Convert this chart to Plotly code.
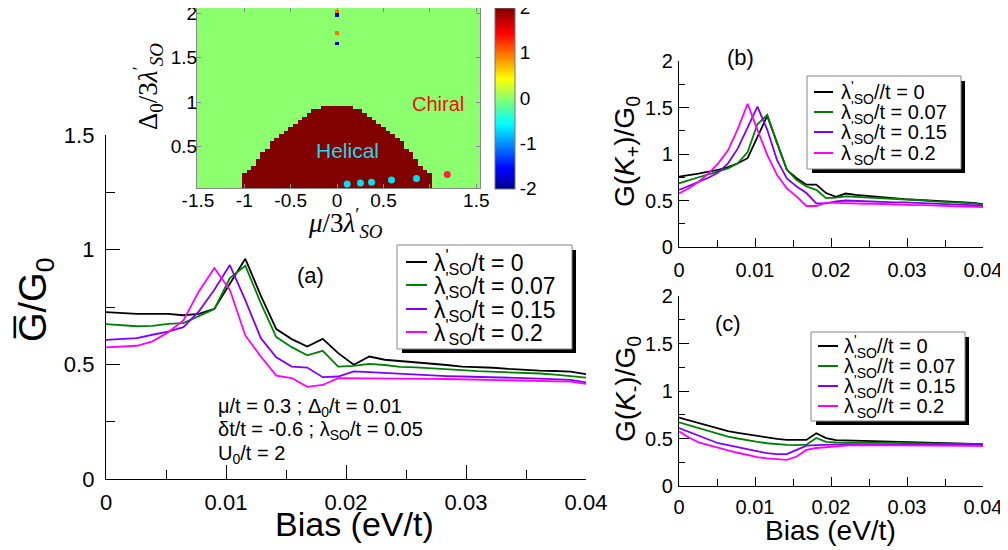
import plotly.graph_objects as go

# ---------------- data ----------------
bias = [0.0, 0.00129, 0.00258, 0.00387, 0.00516, 0.00645, 0.00774, 0.00903, 0.01032, 0.01161,
        0.0129, 0.01419, 0.01548, 0.01677, 0.01806, 0.01935, 0.02065, 0.02194, 0.02323, 0.02452,
        0.02581, 0.0271, 0.02839, 0.02968, 0.03097, 0.03226, 0.03355, 0.03484, 0.03613, 0.03742,
        0.03871, 0.04]

# panel (a): mean conductance
a_l0 = [0.728, 0.723, 0.72, 0.72, 0.72, 0.714, 0.72, 0.742, 0.85, 0.96, 0.8, 0.654, 0.61, 0.578, 0.611,
        0.549, 0.498, 0.534, 0.52, 0.515, 0.508, 0.502, 0.497, 0.49, 0.488, 0.485, 0.48, 0.475, 0.473,
        0.471, 0.468, 0.457]
a_l007 = [0.675, 0.67, 0.666, 0.668, 0.676, 0.68, 0.709, 0.741, 0.876, 0.93, 0.767, 0.619, 0.575, 0.539,
          0.559, 0.49, 0.493, 0.502, 0.497, 0.489, 0.487, 0.484, 0.479, 0.475, 0.47, 0.468, 0.465, 0.462,
          0.46, 0.455, 0.45, 0.442]
a_l015 = [0.607, 0.609, 0.614, 0.629, 0.643, 0.662, 0.731, 0.825, 0.933, 0.78, 0.614, 0.531, 0.49, 0.486,
          0.444, 0.447, 0.469, 0.466, 0.462, 0.458, 0.455, 0.452, 0.449, 0.447, 0.446, 0.445, 0.443, 0.44,
          0.438, 0.435, 0.432, 0.421]
a_l02 = [0.574, 0.576, 0.581, 0.6, 0.639, 0.691, 0.818, 0.92, 0.825, 0.626, 0.534, 0.451, 0.44, 0.402, 0.41,
         0.44, 0.44, 0.44, 0.44, 0.439, 0.438, 0.437, 0.436, 0.435, 0.433, 0.432, 0.43, 0.429, 0.428, 0.426,
         0.425, 0.415]

# panel (b): G(K+)
b_l0 = [0.756, 0.77, 0.79, 0.81, 0.83, 0.86, 0.9, 0.955, 1.18, 1.41, 1.12, 0.83, 0.74, 0.67, 0.67, 0.58,
        0.54, 0.575, 0.56, 0.55, 0.54, 0.53, 0.525, 0.515, 0.51, 0.505, 0.5, 0.49, 0.485, 0.48, 0.475, 0.46]
b_l007 = [0.685, 0.72, 0.75, 0.78, 0.81, 0.845, 0.9, 1.02, 1.32, 1.42, 1.12, 0.83, 0.72, 0.65, 0.615, 0.525,
          0.53, 0.545, 0.54, 0.535, 0.53, 0.52, 0.515, 0.51, 0.505, 0.5, 0.49, 0.485, 0.48, 0.475, 0.47, 0.455]
b_l015 = [0.613, 0.655, 0.7, 0.745, 0.8, 0.9, 1.06, 1.28, 1.51, 1.26, 0.935, 0.738, 0.65, 0.58, 0.47, 0.47,
          0.49, 0.5, 0.495, 0.49, 0.49, 0.485, 0.48, 0.48, 0.475, 0.47, 0.47, 0.465, 0.46, 0.455, 0.45, 0.445]
b_l02 = [0.576, 0.631, 0.702, 0.79, 0.9, 1.04, 1.27, 1.54, 1.26, 0.99, 0.774, 0.631, 0.541, 0.441, 0.441,
         0.476, 0.475, 0.47, 0.47, 0.465, 0.465, 0.46, 0.46, 0.455, 0.45, 0.45, 0.445, 0.44, 0.44, 0.435,
         0.435, 0.43]

# panel (c): G(K-)
c_l0 = [0.72, 0.69, 0.66, 0.635, 0.6, 0.578, 0.56, 0.542, 0.525, 0.51, 0.495, 0.485, 0.485, 0.485, 0.555,
        0.505, 0.483, 0.48, 0.478, 0.475, 0.472, 0.47, 0.468, 0.466, 0.464, 0.46, 0.456, 0.453, 0.45, 0.448,
        0.446, 0.44]
c_l007 = [0.67, 0.64, 0.61, 0.58, 0.55, 0.52, 0.5, 0.48, 0.465, 0.45, 0.44, 0.432, 0.43, 0.435, 0.505, 0.465,
          0.46, 0.46, 0.46, 0.458, 0.456, 0.455, 0.454, 0.452, 0.45, 0.45, 0.448, 0.446, 0.445, 0.443, 0.442,
          0.44]
c_l015 = [0.61, 0.57, 0.53, 0.49, 0.45, 0.43, 0.41, 0.385, 0.365, 0.345, 0.335, 0.335, 0.38, 0.425, 0.43,
          0.435, 0.44, 0.44, 0.44, 0.44, 0.44, 0.44, 0.44, 0.44, 0.44, 0.438, 0.436, 0.435, 0.434, 0.433,
          0.432, 0.43]
c_l02 = [0.575, 0.51, 0.46, 0.43, 0.4, 0.375, 0.35, 0.325, 0.305, 0.29, 0.28, 0.275, 0.31, 0.38, 0.4, 0.41,
         0.42, 0.425, 0.43, 0.43, 0.43, 0.43, 0.43, 0.43, 0.43, 0.428, 0.427, 0.426, 0.425, 0.424, 0.423, 0.42]

legend_a = ["λ<sup>'</sup><sub>SO</sub>/t = 0", "λ<sup>'</sup><sub>SO</sub>/t = 0.07",
            "λ<sup>'</sup><sub>SO</sub>/t = 0.15", "λ<sup>'</sup><sub>SO</sub>/t = 0.2"]
legend_b = ["λ<sup>'</sup><sub>SO</sub>//t = 0", "λ<sup>'</sup><sub>SO</sub>/t = 0.07",
            "λ<sup>'</sup><sub>SO</sub>/t = 0.15", "λ<sup>'</sup><sub>SO</sub>/t = 0.2"]
legend_c = ["λ<sup>'</sup><sub>SO</sub>//t = 0", "λ<sup>'</sup><sub>SO</sub>//t = 0.07",
            "λ<sup>'</sup><sub>SO</sub>//t = 0.15", "λ<sup>'</sup><sub>SO</sub>//t = 0.2"]

# inset phase diagram: upper edge of the helical dome (Delta0/3lambda') vs mu/3lambda'
dome_mu = [-1.0, -0.95, -0.9, -0.85, -0.8, -0.75, -0.7, -0.65, -0.6, -0.55, -0.5, -0.45, -0.4, -0.35, -0.3,
           -0.25, -0.2, -0.15, -0.1, -0.05, 0.0, 0.05, 0.1, 0.15, 0.2, 0.25, 0.3, 0.35, 0.4, 0.45, 0.5, 0.55,
           0.6, 0.65, 0.7, 0.75, 0.8, 0.85, 0.9, 0.95, 1.0]
dome_top = [0.2, 0.25, 0.3, 0.355, 0.43, 0.495, 0.55, 0.6, 0.645, 0.69, 0.735, 0.78, 0.82, 0.86, 0.885,
            0.91, 0.935, 0.95, 0.965, 0.975, 0.98, 0.975, 0.965, 0.95, 0.935, 0.91, 0.885, 0.86, 0.82, 0.78,
            0.735, 0.69, 0.645, 0.6, 0.55, 0.495, 0.43, 0.355, 0.3, 0.25, 0.2]
helical_value = 2
chiral_value = 0
spot_mu = [0.0, 0.0, 0.0, 0.0]
spot_delta = [2.02, 1.98, 1.78, 1.66]
spot_value = [1.0, -1.8, 1.0, -1.8]
grid_mu = [-1.55, -1.5, -1.45, -1.4, -1.35, -1.3, -1.25, -1.2, -1.15, -1.1, -1.05] + dome_mu + \
          [1.05, 1.1, 1.15, 1.2, 1.25, 1.3, 1.35, 1.4, 1.45, 1.5, 1.55]
grid_delta = [0.02, 0.06, 0.1, 0.14, 0.18, 0.22, 0.26, 0.3, 0.34, 0.38, 0.42, 0.46, 0.5, 0.54, 0.58, 0.62,
              0.66, 0.7, 0.74, 0.78, 0.82, 0.86, 0.9, 0.94, 0.98, 1.02, 1.06, 1.1, 1.14, 1.18, 1.22, 1.26,
              1.3, 1.34, 1.38, 1.42, 1.46, 1.5, 1.54, 1.58, 1.62, 1.66, 1.7, 1.74, 1.78, 1.82, 1.86, 1.9,
              1.94, 1.98, 2.02, 2.06]
helical_pts_mu = [0.108, 0.252, 0.371, 0.586, 0.856]
helical_pts_delta = [0.079, 0.09, 0.10, 0.124, 0.142]
chiral_pts_mu = [1.187]
chiral_pts_delta = [0.187]

# ---------------- styles ----------------
# the page puts the figure 8 px from the window's top-left corner
OFF = 8
W, H = 1000, 542
FONT = "Liberation Sans, Arial, sans-serif"
SERIF = "Liberation Serif, Times New Roman, serif"
series_colors = ["#000000", "#008000", "#8000FF", "#FF00FF"]


def X(px):
    return (px - OFF) / W


def Y(py):
    return 1 - (py - OFF) / H


fig = go.Figure()

panels = [
    ("x", "y", [a_l0, a_l007, a_l015, a_l02], legend_a),
    ("x2", "y2", [b_l0, b_l007, b_l015, b_l02], legend_b),
    ("x3", "y3", [c_l0, c_l007, c_l015, c_l02], legend_c),
]
for xa, ya, series, names in panels:
    for vals, name, col in zip(series, names, series_colors):
        fig.add_trace(go.Scatter(x=bias, y=vals, mode="lines", name=name, xaxis=xa, yaxis=ya,
                                 line=dict(color=col, width=1.8), showlegend=False))

# inset heatmap (z table built from the dome edge read above)
top_of = {m: t for m, t in zip(dome_mu, dome_top)}
z = []
for d in grid_delta:
    row = []
    for m in grid_mu:
        row.append(helical_value if d < top_of.get(m, 0) else chiral_value)
    z.append(row)
for m, d, v in zip(spot_mu, spot_delta, spot_value):
    z[grid_delta.index(d)][grid_mu.index(m)] = v

jet = [[0, "rgb(0,0,140)"], [0.11, "rgb(0,0,255)"], [0.36, "rgb(0,255,255)"], [0.5, "rgb(140,255,110)"],
       [0.61, "rgb(255,255,0)"], [0.86, "rgb(255,0,0)"], [1, "rgb(128,0,0)"]]
fig.add_trace(go.Heatmap(x=grid_mu, y=grid_delta, z=z, xaxis="x4", yaxis="y4", zmin=-2.003, zmax=2.003,
                         colorscale=jet, zsmooth=False,
                         colorbar=dict(x=X(495), xanchor="left", xpad=0, y=Y(98), yanchor="middle",
                                       len=181 / H, lenmode="fraction", thickness=20, ypad=0,
                                       outlinecolor="#777777", outlinewidth=1, ticklabeloverflow="allow",
                                       tickvals=[-2, -1, 0, 1, 2], ticktext=["-2", "-1", "0", "1", "2"],
                                       ticks="", tickfont=dict(family=FONT, size=19, color="black"))))
fig.add_trace(go.Scatter(x=helical_pts_mu, y=helical_pts_delta, mode="markers", xaxis="x4", yaxis="y4",
                         marker=dict(color="#00E0F0", size=7), showlegend=False))
fig.add_trace(go.Scatter(x=chiral_pts_mu, y=chiral_pts_delta, mode="markers", xaxis="x4", yaxis="y4",
                         marker=dict(color="#FF2040", size=7), showlegend=False))


def main_axis(dom, rng, ticklen, minor_dtick, minorlen, fsize, vals, texts, anchor, standoff):
    return dict(domain=dom, range=rng, showline=True, linecolor="black", linewidth=1.3, mirror=False,
                ticks="inside", ticklen=ticklen, tickwidth=1.2, tickcolor="black", showgrid=False,
                zeroline=False, automargin=False, anchor=anchor, ticklabelstandoff=standoff,
                ticklabeloverflow="allow",
                tickfont=dict(family=FONT, size=fsize, color="black"),
                tickmode="array", tickvals=vals, ticktext=texts,
                minor=dict(dtick=minor_dtick, tick0=0, ticks="inside", ticklen=minorlen, tickwidth=1.2,
                           tickcolor="black", showgrid=False))


xt_vals = [0, 0.01, 0.02, 0.03, 0.04]
xt_text = ["0", "0.01", "0.02", "0.03", "0.04"]
yt_vals = [0, 0.5, 1, 1.5, 2]
yt_text = ["0", "0.5", "1", "1.5", "2"]

inset_ax = dict(showline=True, linecolor="#888888", linewidth=1, mirror="ticks", ticks="inside",
                ticklen=4, tickcolor="#888888", showgrid=False, zeroline=False, automargin=False,
                ticklabelstandoff=-5, ticklabeloverflow="allow",
                tickfont=dict(family=FONT, size=19, color="black"))

fig.update_layout(
    width=W, height=H, margin=dict(l=0, r=0, t=0, b=0, pad=0, autoexpand=False),
    paper_bgcolor="white", plot_bgcolor="rgba(0,0,0,0)", showlegend=False,
    font=dict(family=FONT, color="black"),
    xaxis=main_axis([X(106), X(586)], [0, 0.04], 14, 0.005, 9, 22, xt_vals, xt_text, "y", 3),
    yaxis=main_axis([Y(479), Y(135)], [0, 1.5], 14, 0.25, 9, 22, yt_vals[:4], yt_text[:4], "x", 6),
    xaxis2=main_axis([X(679), X(983)], [0, 0.04], 9, 0.005, 7, 20, xt_vals, xt_text, "y2", 5),
    yaxis2=main_axis([Y(247), Y(61)], [0, 2], 10, 0.25, 6, 20, yt_vals, yt_text, "x2", 1),
    xaxis3=main_axis([X(679), X(983)], [0, 0.04], 9, 0.005, 7, 20, xt_vals, xt_text, "y3", 3),
    yaxis3=main_axis([Y(486), Y(296)], [0, 2], 10, 0.25, 6, 20, yt_vals, yt_text, "x3", 1),
    xaxis4=dict(domain=[X(197), X(480)], range=[-1.51, 1.54], tickmode="array",
                tickvals=[-1.5, -1, -0.5, 0, 0.5, 1, 1.5],
                ticktext=["-1.5", "-1", "-0.5", "0", "0.5", "", "1.5"], anchor="y4", **inset_ax),
    yaxis4=dict(domain=[Y(188), Y(8)], range=[0.035, 2.06], tickmode="array",
                tickvals=[0.5, 1, 1.5, 2], ticktext=["0.5", "1", "1.5", "2"], anchor="x4", **inset_ax),
)

shapes = []
annotations = []


def legend_box(box, names, rows, line_x, text_x, fsize):
    x0, y0, x1, y1 = box
    shapes.append(dict(type="rect", xref="paper", yref="paper", x0=X(x0 + 5), x1=X(x1 + 4),
                       y0=Y(y1 + 4), y1=Y(y0 + 5), fillcolor="black", line=dict(width=0), layer="above"))
    shapes.append(dict(type="rect", xref="paper", yref="paper", x0=X(x0), x1=X(x1), y0=Y(y1), y1=Y(y0),
                       fillcolor="white", line=dict(color="#888888", width=1), layer="above"))
    for name, col, r in zip(names, series_colors, rows):
        shapes.append(dict(type="line", xref="paper", yref="paper", x0=X(line_x[0]), x1=X(line_x[1]),
                           y0=Y(r), y1=Y(r), line=dict(color=col, width=2), layer="above"))
        annotations.append(dict(text=name, xref="paper", yref="paper", x=X(text_x), y=Y(r),
                                xanchor="left", yanchor="middle", showarrow=False,
                                font=dict(family=FONT, size=fsize, color="black")))


legend_box((397, 245, 572, 349), legend_a, [262, 285, 309, 332], (406, 427), 432, 23)
legend_box((807, 76, 961, 169), legend_b, [92, 112, 132, 153], (814, 833), 839, 20)
legend_box((811, 332, 965, 421), legend_c, [346, 366, 386, 406], (818, 838), 842, 20)


def note(text, px, py, size, color="black", xanchor="center", angle=0, family=FONT):
    annotations.append(dict(text=text, xref="paper", yref="paper", x=X(px), y=Y(py), xanchor=xanchor,
                            yanchor="middle", showarrow=False, textangle=angle,
                            font=dict(family=family, size=size, color=color)))


note("(a)", 310, 275, 22)
note("(b)", 740, 58, 22)
note("(c)", 728, 323, 22)
note("μ/t = 0.3 ; Δ<sub>0</sub>/t = 0.01", 216, 407, 20, xanchor="left")
note("δt/t = -0.6 ; λ<sub>SO</sub>/t = 0.05", 216, 430, 20, xanchor="left")
note("U<sub>0</sub>/t = 2", 216, 454, 20, xanchor="left")
note("Bias (eV/t)", 354, 524, 34)
note("Bias (eV/t)", 830, 530, 28)
note("G\u0305/G<sub>0</sub>", 36, 300, 38, angle=-90)
note("G(<i>K</i><sub>+</sub>)/G<sub>0</sub>", 627, 152, 28, angle=-90)
note("G(<i>K</i><sub>-</sub>)/G<sub>0</sub>", 627, 389, 28, angle=-90)
note("<i>μ</i>/3<i>λ</i><sup>′</sup><sub><i>SO</i></sub>", 345, 223, 27, family=SERIF)
note("Δ<sub>0</sub>/3<i>λ</i><sup>′</sup><sub><i>SO</i></sub>", 148, 87, 27, angle=-90, family=SERIF)
note("Chiral", 438, 104, 20, color="#F01010")
note("Helical", 347, 150, 21, color="#20D8E8")

fig.update_layout(shapes=shapes, annotations=annotations)
fig.write_html("out.html")
